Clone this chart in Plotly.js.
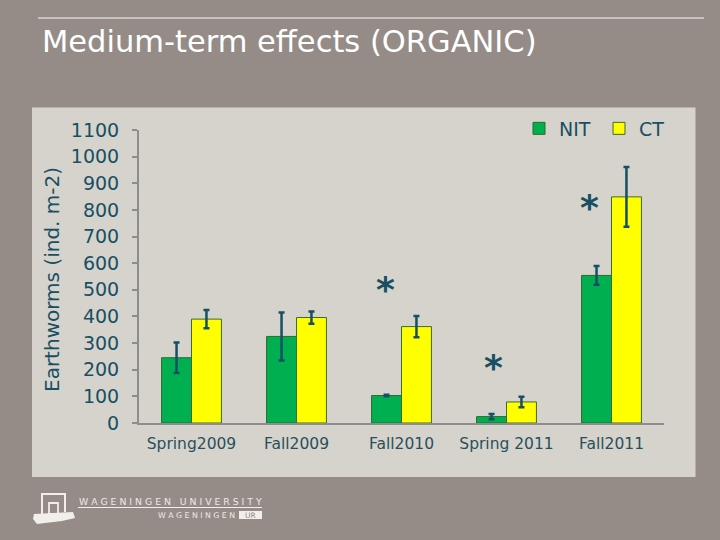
<!DOCTYPE html>
<html>
<head>
<meta charset="utf-8">
<script src="https://cdn.plot.ly/plotly-3.0.1.min.js"></script>
<style>
  html, body { margin: 0; padding: 0; background: #958c87; }
  #chart { width: 720px; height: 540px; }
</style>
</head>
<body>
<div id="chart"></div>
<script>
// ---- data ----
const categories = ['Spring2009', 'Fall2009', 'Fall2010', 'Spring 2011', 'Fall2011'];
const nitValues = [245, 325, 103, 24, 554];
const nitErrors = [57, 90, 3, 10, 35];
const ctValues = [390, 396, 362, 79, 849];
const ctErrors = [34, 23, 40, 20, 112];
const sigCategories = ['Fall2010', 'Spring 2011', 'Fall2011'];
const sigLevels = [517, 223, 824];
const yTickValues = [0, 100, 200, 300, 400, 500, 600, 700, 800, 900, 1000, 1100];

// ---- layout helpers (pixel -> paper) ----
const L = 139, R = 56, T = 130, B = 117;
const W = 720 - L - R, H = 540 - T - B;
const px = x => (x - L) / W;
const py = y => (540 - B - y) / H;

const teal = '#174f63';
const font = 'DejaVu Sans, Verdana, sans-serif';

const traces = [
  {
    type: 'bar', name: 'NIT', x: categories, y: nitValues,
    error_y: { type: 'data', array: nitErrors, visible: true, color: teal, thickness: 2.5, width: 3 },
    marker: { color: '#00b050', line: { color: '#2a6a2e', width: 1 } },
    hoverinfo: 'skip'
  },
  {
    type: 'bar', name: 'CT', x: categories, y: ctValues,
    error_y: { type: 'data', array: ctErrors, visible: true, color: teal, thickness: 2.5, width: 3 },
    marker: { color: '#ffff00', line: { color: '#3d6b2a', width: 1 } },
    hoverinfo: 'skip'
  }
];

const sigShift = { 'Fall2010': -16, 'Spring 2011': -13, 'Fall2011': -22 };
const annotations = sigCategories.map((c, i) => ({
  x: c, y: sigLevels[i], xref: 'x', yref: 'y', text: '*', showarrow: false,
  xshift: sigShift[c], yshift: -4, yanchor: 'middle',
  font: { family: font, size: 36, color: teal, weight: 'bold' }
}));

annotations.push({
  xref: 'paper', yref: 'paper', x: px(52), y: py(280), text: 'Earthworms (ind. m-2)',
  textangle: -90, showarrow: false, xanchor: 'center', yanchor: 'middle',
  font: { family: font, size: 20, color: teal }
});
// logo texts
annotations.push({
  xref: 'paper', yref: 'paper', x: px(170), y: py(501), text: 'W A G E N I N G E N   U N I V E R S I T Y',
  showarrow: false, xanchor: 'center', yanchor: 'middle',
  font: { family: font, size: 9.3, color: '#eeeae6' }
});
annotations.push({
  xref: 'paper', yref: 'paper', x: px(237), y: py(515), text: 'W A G E N I N G E N',
  showarrow: false, xanchor: 'right', yanchor: 'middle',
  font: { family: font, size: 7.8, color: '#eeeae6' }
});
annotations.push({
  xref: 'paper', yref: 'paper', x: px(250.5), y: py(515), text: 'UR',
  showarrow: false, xanchor: 'center', yanchor: 'middle',
  font: { family: font, size: 7.5, color: '#958c87' }
});

const logoCol = '#f1eeeb';
const shapes = [
  // light panel
  { type: 'rect', xref: 'paper', yref: 'paper', x0: px(32), x1: px(695.5), y0: py(477), y1: py(107.5),
    fillcolor: '#d6d3cc', line: { width: 0 }, layer: 'below' },
  // top rule
  { type: 'line', xref: 'paper', yref: 'paper', x0: px(38), x1: px(704), y0: py(18), y1: py(18),
    line: { color: '#d9d4cf', width: 1.5 } },
  // logo: building frame
  { type: 'path', xref: 'paper', yref: 'paper',
    path: `M ${px(42)},${py(514)} L ${px(42)},${py(494)} L ${px(65)},${py(494)} L ${px(65)},${py(512)}`,
    line: { color: logoCol, width: 2 } },
  { type: 'rect', xref: 'paper', yref: 'paper', x0: px(49), x1: px(58), y0: py(514), y1: py(503),
    line: { color: logoCol, width: 1.8 } },
  { type: 'path', xref: 'paper', yref: 'paper',
    path: `M ${px(34)},${py(514)} L ${px(73)},${py(512)} L ${px(75)},${py(518)} L ${px(62)},${py(521)} L ${px(37)},${py(524)} L ${px(33)},${py(519)} Z`,
    fillcolor: logoCol, line: { width: 0 } },
  // logo: rule under university text
  { type: 'line', xref: 'paper', yref: 'paper', x0: px(78), x1: px(262), y0: py(507.5), y1: py(507.5),
    line: { color: logoCol, width: 1 } },
  // UR box
  { type: 'rect', xref: 'paper', yref: 'paper', x0: px(239), x1: px(262), y0: py(519), y1: py(511),
    fillcolor: logoCol, line: { width: 0 } }
];

const layout = {
  width: 720, height: 540,
  margin: { l: L, r: R, t: T, b: B, pad: 0 },
  paper_bgcolor: '#958c87',
  plot_bgcolor: 'rgba(0,0,0,0)',
  barmode: 'group',
  bargap: 0.43,
  bargroupgap: 0,
  showlegend: true,
  hovermode: false,
  title: {
    text: 'Medium-term effects (ORGANIC)',
    xref: 'container', yref: 'container', x: 42 / 720, xanchor: 'left',
    y: 1 - 41 / 540, yanchor: 'middle',
    font: { family: font, size: 30.5, color: '#ffffff' }
  },
  legend: {
    orientation: 'h', x: px(519), xanchor: 'left', y: py(128.5), yanchor: 'middle',
    bgcolor: 'rgba(0,0,0,0)', borderwidth: 0,
    entrywidth: 35, entrywidthmode: 'pixels',
    font: { family: font, size: 19, color: teal }
  },
  xaxis: {
    type: 'category', categoryorder: 'array', categoryarray: categories,
    showline: true, linecolor: '#8d8d8d', linewidth: 2,
    ticks: 'outside', ticklen: 5, tickcolor: 'rgba(0,0,0,0)',
    tickfont: { family: font, size: 15.5, color: '#28505c' },
    showgrid: false, zeroline: false, fixedrange: true
  },
  yaxis: {
    range: [0, 1100], tickmode: 'array', tickvals: yTickValues, ticktext: yTickValues.map(String),
    showline: true, linecolor: '#8d8d8d', linewidth: 2,
    ticks: 'outside', ticklen: 5, tickwidth: 2, tickcolor: '#8d8d8d',
    ticklabelstandoff: 9,
    tickfont: { family: font, size: 19, color: teal },
    showgrid: false, zeroline: false, fixedrange: true
  },
  annotations: annotations,
  shapes: shapes
};

Plotly.newPlot('chart', traces, layout, { staticPlot: true, displayModeBar: false });
</script>
</body>
</html>
